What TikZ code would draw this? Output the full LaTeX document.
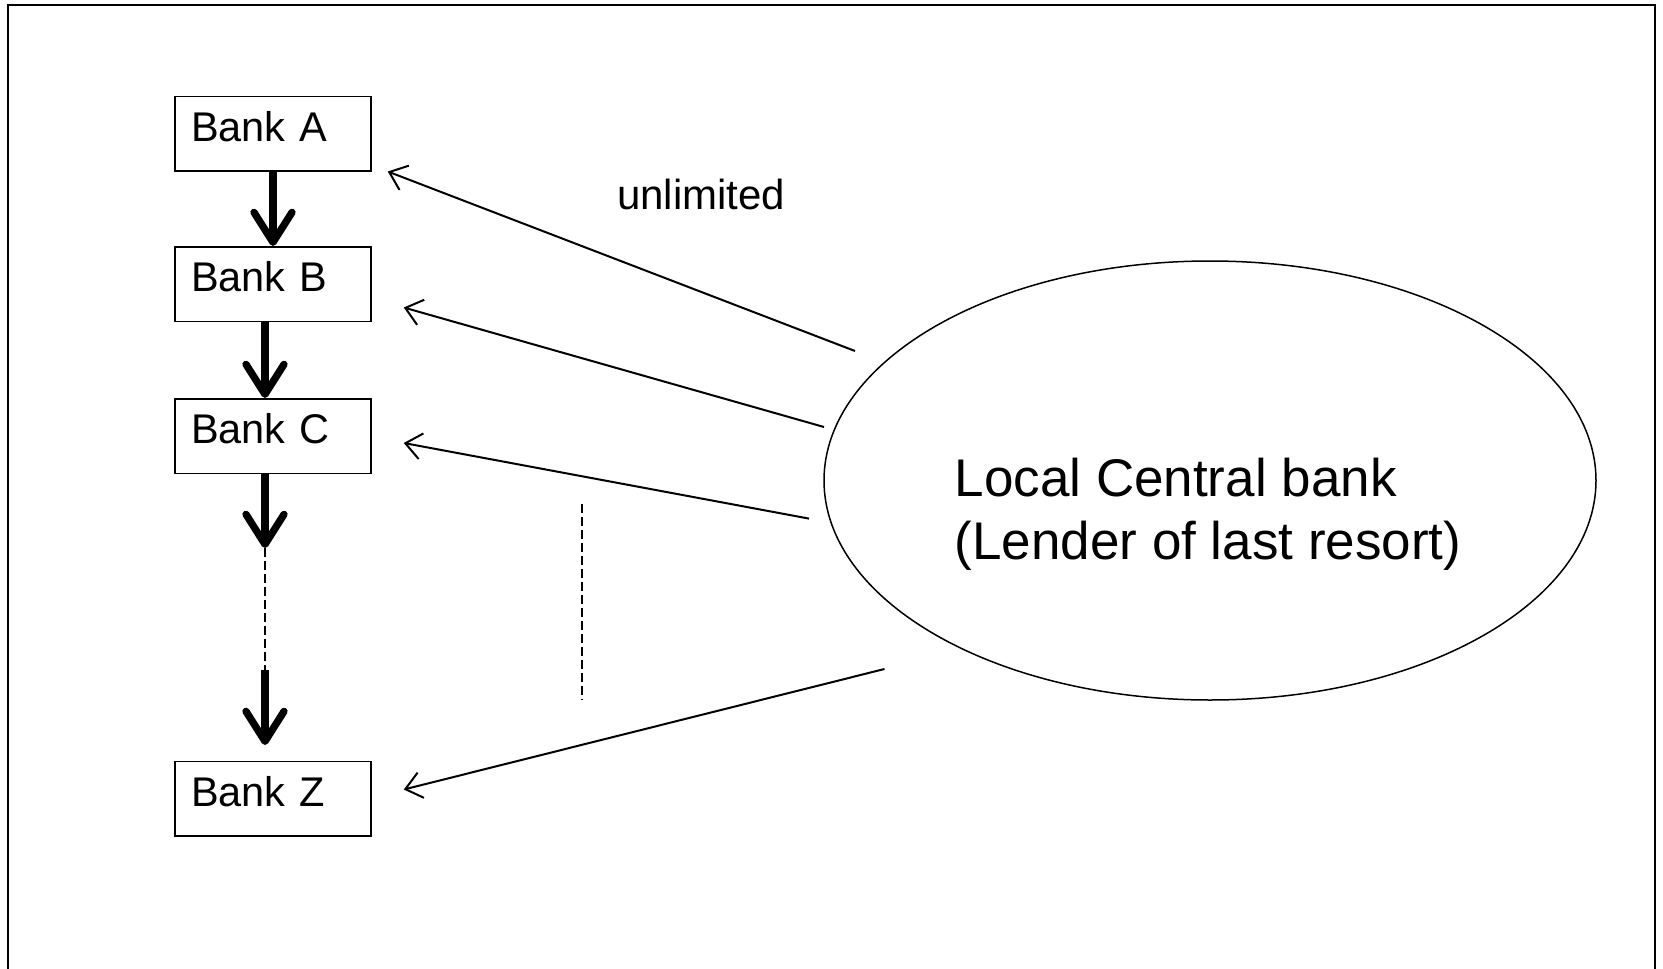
\documentclass[tikz,border=0pt]{standalone}
\usepackage{fontspec}
\setmainfont{Liberation Sans}
\usetikzlibrary{arrows.meta,shapes.geometric,calc}
\begin{document}
\begin{tikzpicture}[x=1pt,y=-1pt,
  bankbox/.style={draw, line width=1.5pt, inner xsep=16pt, inner ysep=0pt, text width=164pt, align=left,
    text height=45pt, text depth=29.5pt, anchor=north, font=\fontsize{41.5}{48}\selectfont},
  flow/.style={line width=7.3pt, -{Straight Barb[length=30pt,width=38pt,line cap=round,line join=round]}},
  lend/.style={line width=2pt, -{Straight Barb[length=16pt,width=26pt]}},
  dots/.style={line width=1.5pt, dash pattern=on 9pt off 4pt}]
\useasboundingbox (0,0) rectangle (1663,969);
\draw[line width=2pt] (8,975) -- (8,4.5) -- (1655,4.5) -- (1655,975);

\node[bankbox] (A) at (273,95.5) {Bank A};
\node[bankbox] (B) at (273,246) {Bank B};
\node[bankbox] (C) at (273,398) {Bank C};
\node[bankbox] (Z) at (273,760.5) {Bank Z};

\coordinate (c1) at (265,548);
\coordinate (c2) at (265,670);
\draw[flow] (A.south) -- (B.north);
\draw[flow] ($(B.south)+(-8,0)$) -- ($(C.north)+(-8,0)$);
\draw[flow] ($(C.south)+(-8,0)$) -- (c1);
\draw[dots] (c1) -- (c2);
\draw[flow] (c2) -- ($(Z.north)+(-8,-15.5)$);

\node[draw, ellipse, line width=1.5pt, minimum width=772pt, minimum height=439pt, inner sep=0pt] (LCB) at (1210,480.5) {};
\node[anchor=base west, align=left, inner sep=0pt, font=\fontsize{53}{62.6}\selectfont] (lcbtext) at (954.5,559) {Local Central bank\\(Lender of last resort)};

\node[anchor=base west, inner sep=0pt, font=\fontsize{42}{50}\selectfont] (unl) at (617,209) {unlimited};

\coordinate (s1) at (855,351);
\coordinate (s2) at (824,427);
\coordinate (s3) at (809,518.6);
\coordinate (s4) at (884.5,669);
\draw[lend] (s1) -- ($(A.south east)+(16,0)$);
\draw[lend] (s2) -- ($(B.south east)+(32,-14.5)$);
\draw[lend] (s3) -- ($(C.south east)+(32,-31)$);
\draw[lend] (s4) -- ($(Z.south east)+(32,-47)$);

\coordinate (d1) at (582,504);
\coordinate (d2) at (582,700);
\draw[dots] (d1) -- (d2);
\end{tikzpicture}
\end{document}
